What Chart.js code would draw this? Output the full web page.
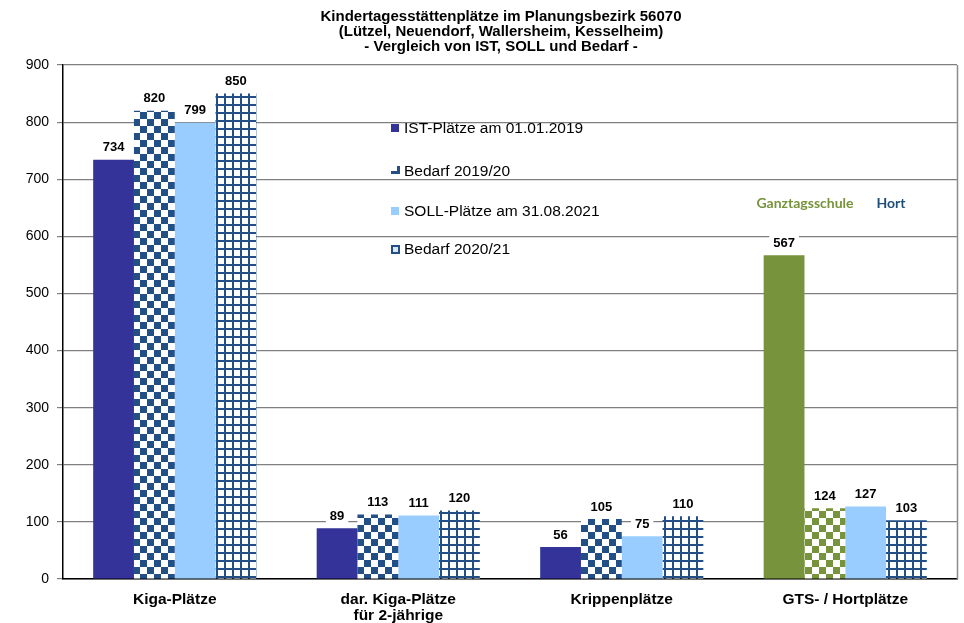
<!DOCTYPE html>
<html>
<head>
<meta charset="utf-8">
<script src="https://cdn.jsdelivr.net/npm/chart.js@4.4.1/dist/chart.umd.min.js"></script>
<style>
  html, body { margin: 0; padding: 0; background: #fff; }
  #wrap { width: 964px; height: 623px; position: relative; }
</style>
</head>
<body>
<div id="wrap"><canvas id="c" width="964" height="623"></canvas></div>
<script>
// Kita-Plätze im Planungsbezirk 56070
const categories = ['Kiga-Plätze', ['dar. Kiga-Plätze', 'für 2-jährige'], 'Krippenplätze', 'GTS- / Hortplätze'];
const istPlaetze = [734, 89, 56, 567];
const bedarf1920 = [820, 113, 105, 124];
const sollPlaetze = [799, 111, 75, 127];
const bedarf2021 = [850, 120, 110, 103];
const seriesNames = ['IST-Plätze am 01.01.2019', 'Bedarf 2019/20', 'SOLL-Plätze am 31.08.2021', 'Bedarf 2020/21'];
const yTicks = [0, 100, 200, 300, 400, 500, 600, 700, 800, 900];
const titleLines = [
  'Kindertagesstättenplätze im Planungsbezirk 56070',
  '(Lützel, Neuendorf, Wallersheim, Kesselheim)',
  '- Vergleich von IST, SOLL und Bedarf -'
];
const noteLabels = ['Ganztagsschule', 'Hort'];

const DARK = '#333399';
const PAT_BLUE = '#234f87';
const GREEN = '#77933c';
const LIGHT = '#99ccff';

function checker(color, cell) {
  const c = document.createElement('canvas');
  c.width = c.height = cell * 2;
  const g = c.getContext('2d');
  g.fillStyle = '#fff';
  g.fillRect(0, 0, cell * 2, cell * 2);
  g.fillStyle = color;
  g.fillRect(0, 0, cell, cell);
  g.fillRect(cell, cell, cell, cell);
  return g.createPattern(c, 'repeat');
}
function gridPattern(color, step, w) {
  const c = document.createElement('canvas');
  c.width = c.height = step;
  const g = c.getContext('2d');
  g.fillStyle = '#fff';
  g.fillRect(0, 0, step, step);
  g.fillStyle = color;
  g.fillRect(0, 0, w, step);
  g.fillRect(0, 0, step, w);
  return g.createPattern(c, 'repeat');
}
const chkBlue = checker(PAT_BLUE, 7);
const chkGreen = checker(GREEN, 7);
const gridBlue = gridPattern(PAT_BLUE, 8, 2);

const FONT = 'Arial, "Liberation Sans", sans-serif';

const deco = {
  id: 'deco',
  beforeDraw(chart) {
    const ctx = chart.ctx;
    ctx.save();
    ctx.fillStyle = '#fff';
    ctx.fillRect(0, 0, chart.width, chart.height);
    ctx.restore();
  },
  afterDatasetsDraw(chart) {
    const ctx = chart.ctx;
    const a = chart.chartArea;
    ctx.save();
    // value labels
    ctx.font = 'bold 13px ' + FONT;
    ctx.textAlign = 'center';
    ctx.textBaseline = 'middle';
    chart.data.datasets.forEach((ds, i) => {
      chart.getDatasetMeta(i).data.forEach((bar, j) => {
        const txt = String(ds.data[j]);
        const w = ctx.measureText(txt).width;
        const cy = bar.y - 12;
        ctx.fillStyle = '#fff';
        ctx.fillRect(bar.x - w / 2 - 4, cy - 8, w + 8, 16);
        ctx.fillStyle = '#000';
        ctx.fillText(txt, bar.x, cy);
      });
    });
    // right frame
    ctx.strokeStyle = '#8c8c8c';
    ctx.lineWidth = 1.5;
    ctx.beginPath();
    ctx.moveTo(a.right + 0.5, a.top);
    ctx.lineTo(a.right + 0.5, a.bottom);
    ctx.stroke();

    // title
    ctx.fillStyle = '#000';
    ctx.font = 'bold 15px ' + FONT;
    ctx.textAlign = 'center';
    titleLines.forEach((t, i) => ctx.fillText(t, 501, 17 + i * 15));

    // legend
    const ly = [128, 171, 211, 249];
    const lx = 391;
    ctx.textAlign = 'left';
    ctx.font = '15.5px ' + FONT;
    ly.forEach((y, i) => {
      if (i === 0 || i === 2) {
        ctx.fillStyle = i === 0 ? DARK : LIGHT;
        ctx.fillRect(lx, y - 4, 8, 8);
      } else if (i === 1) {
        ctx.fillStyle = PAT_BLUE;
        ctx.fillRect(lx, y, 8, 3);
        ctx.fillRect(lx + 6, y - 5, 3, 8);
      } else {
        ctx.fillStyle = '#dbe6f4';
        ctx.fillRect(lx, y - 4, 9, 9);
        ctx.strokeStyle = PAT_BLUE;
        ctx.lineWidth = 2;
        ctx.strokeRect(lx + 1, y - 3, 7, 7);
      }
      ctx.fillStyle = '#000';
      ctx.fillText(seriesNames[i], lx + 13, y + 1);
    });

    // annotations for the last group
    ctx.textAlign = 'center';
    ctx.font = 'bold 14px Lato, "Open Sans", sans-serif';
    ctx.fillStyle = GREEN;
    ctx.fillText(noteLabels[0], 805, 203);
    ctx.fillStyle = '#1f4e79';
    ctx.fillText(noteLabels[1], 891, 203);
    ctx.restore();
  }
};

new Chart(document.getElementById('c'), {
  type: 'bar',
  data: {
    labels: categories,
    datasets: [
      { label: seriesNames[0], data: istPlaetze, backgroundColor: [DARK, DARK, DARK, GREEN] },
      { label: seriesNames[1], data: bedarf1920, backgroundColor: [chkBlue, chkBlue, chkBlue, chkGreen] },
      { label: seriesNames[2], data: sollPlaetze, backgroundColor: LIGHT },
      { label: seriesNames[3], data: bedarf2021, backgroundColor: gridBlue }
    ]
  },
  options: {
    responsive: false,
    animation: false,
    devicePixelRatio: 1,
    layout: { padding: { top: 65, right: 7, left: 0, bottom: 0 } },
    datasets: { bar: { categoryPercentage: 0.73, barPercentage: 1, borderWidth: 0 } },
    plugins: { legend: { display: false }, title: { display: false }, tooltip: { enabled: false } },
    scales: {
      x: {
        grid: { display: false },
        border: { display: true, color: '#000', width: 1.5 },
        ticks: { color: '#000', font: { family: FONT, size: 15.5, weight: 'bold', lineHeight: 1.0 }, padding: 5, maxRotation: 0 },
        afterFit(s) { s.height = 44; }
      },
      y: {
        min: 0, max: 900,
        afterBuildTicks(s) { s.ticks = yTicks.map(v => ({ value: v })); },
        grid: { color: '#7f7f7f', lineWidth: 1.2, tickLength: 6 },
        border: { display: true, color: '#000', width: 1.5 },
        ticks: { color: '#000', font: { family: FONT, size: 14 }, padding: 8 },
        afterFit(s) { s.width = 63; }
      }
    }
  },
  plugins: [deco]
});
</script>
</body>
</html>
